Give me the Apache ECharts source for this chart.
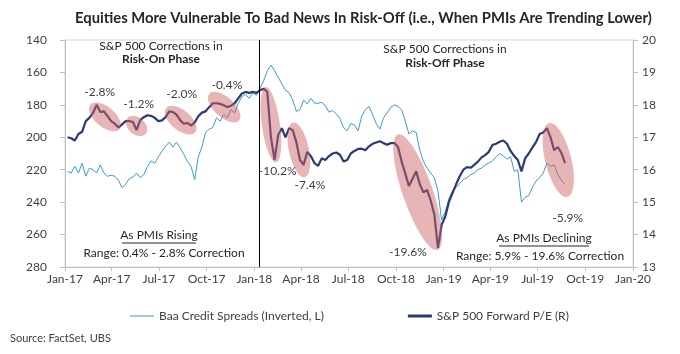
<!DOCTYPE html>
<html>
<head>
<meta charset="utf-8">
<script src="https://cdn.jsdelivr.net/npm/echarts@6/dist/echarts.min.js"></script>
<style>
html,body{margin:0;padding:0;background:#fff;}
#chart{width:680px;height:354px;}
</style>
</head>
<body>
<div id="chart"></div>
<script>
// weekly readings (Fridays) from 2017-01-06
var firstWeek = '2017-01-06';
var weekCount = 138;

// Baa credit spreads, bp (left axis, inverted)
var baaSpread = [
  221, 222, 218, 222, 216, 224, 219, 220, 222, 217,
  222, 224, 223.5, 224, 226.5, 231, 229, 225.5, 224.5, 222,
  225, 223, 218, 214.5, 216, 212, 208.5, 205.5, 203, 206,
  203, 206.5, 210.5, 215, 218, 226, 212, 206, 197, 195,
  194, 188, 190, 186, 188, 183, 185, 179, 175, 173.5,
  176, 172.5, 174, 170, 165, 159, 155.5, 159, 163, 167,
  171, 172.5, 177, 184, 183, 177, 179.5, 176, 179, 179,
  178.5, 180.5, 184.5, 183.5, 185.5, 188.5, 194, 196, 191.5, 192.5,
  196, 187, 183, 181, 186, 191.5, 195, 188, 185, 181.5,
  180, 181, 183, 190, 198, 196, 197, 208, 215, 219,
  222, 225, 233, 251, 246, 238, 233, 231, 228.5, 226,
  225, 223, 222, 220, 219, 217, 216, 214.5, 212, 210,
  211.5, 213.5, 212, 221, 220, 240, 237, 236, 231, 227,
  225, 222, 216, 218, 217, 223, 226.5, 229
];

// S&P 500 forward P/E (right axis)
var spxPE = [
  17.0, 16.97, 16.9, 17.1, 17.17, 17.5, 17.6, 17.75, 18.0, 17.78,
  17.8, 17.65, 17.5, 17.42, 17.3, 17.4, 17.5, 17.5, 17.47, 17.22,
  17.53, 17.62, 17.68, 17.66, 17.6, 17.5, 17.52, 17.62, 17.8, 17.78,
  17.7, 17.53, 17.42, 17.44, 17.36, 17.46, 17.65, 17.76, 17.8, 17.93,
  18.05, 18.05, 18.03, 17.99, 17.93, 17.97, 18.05, 18.2, 18.35, 18.4,
  18.37, 18.4, 18.37, 18.45, 18.5, 18.4, 17.0, 16.3, 17.07, 17.28,
  17.0, 17.28, 17.22, 16.85, 16.3, 16.15, 16.55, 16.42, 16.2, 16.12,
  16.35, 16.3, 16.42, 16.5, 16.53, 16.46, 16.25, 16.3, 16.5, 16.58,
  16.64, 16.65, 16.6, 16.72, 16.8, 16.84, 16.88, 16.82, 16.77, 16.82,
  16.82, 16.7, 16.25, 15.88, 15.5, 15.72, 15.95, 15.55, 15.3, 15.38,
  15.05, 14.62, 13.58, 14.3, 14.55, 15.0, 15.28, 15.55, 15.8, 16.0,
  16.08, 16.06, 16.15, 16.25, 16.38, 16.45, 16.55, 16.76, 16.8, 16.86,
  16.9, 16.8, 16.58, 16.42, 16.3, 15.95, 16.35, 16.5, 16.68, 16.85,
  17.1, 17.15, 17.28, 17.0, 16.6, 16.7, 16.52, 16.2
];

var leftRange = [140, 280, 20];
var rightRange = [13, 20, 1];
var xRange = ['2017-01-01', '2020-01-01'];
var regimeChange = '2018-01-10';

// correction episodes: label, ellipse centre and label anchor (date, P/E)
var corrLabels = ['-2.8%', '-1.2%', '-2.0%', '-0.4%', '-10.2%', '-7.4%', '-19.6%', '-5.9%'];
var corrCenters = [
  ['2017-03-19', 17.63], ['2017-05-19', 17.35], ['2017-08-12', 17.53], ['2017-11-04', 17.93],
  ['2018-02-02', 17.39], ['2018-03-28', 16.61], ['2018-11-12', 15.31], ['2019-08-10', 16.3]
];
var corrLabelAt = [
  ['2017-03-09', 18.40], ['2017-05-23', 18.03], ['2017-08-14', 18.33], ['2017-11-09', 18.61],
  ['2018-02-15', 15.96], ['2018-04-18', 15.53], ['2018-10-24', 13.46], ['2019-08-28', 14.51]
];
// ellipse size in px: [rx, ry, rotation deg]
var corrShape = [
  [19, 10, -40], [12, 8.5, -40], [19, 10, -40], [20, 10, -42],
  [9, 38, 8], [10, 28, 12], [15, 61, 19], [13, 38, 14]
];

var FONT = 'Lato';
var TXT = '#404040';

function pad(n) { return n < 10 ? '0' + n : '' + n; }
var weeks = [];
var d0 = new Date(firstWeek + 'T00:00:00');
for (var i = 0; i < weekCount; i++) {
  var d = new Date(d0.getTime() + i * 7 * 86400000);
  weeks.push(d.getFullYear() + '-' + pad(d.getMonth() + 1) + '-' + pad(d.getDate()));
}
var baaData = weeks.map(function (w, i) { return [w, baaSpread[i]]; });
var peData = weeks.map(function (w, i) { return [w, spxPE[i]]; });

var MONTHS = ['Jan','Feb','Mar','Apr','May','Jun','Jul','Aug','Sep','Oct','Nov','Dec'];

var myChart = echarts.init(document.getElementById('chart'));
var option = {
  animation: false,
  backgroundColor: '#fff',
  textStyle: { fontFamily: FONT },
  title: {
    text: 'Equities More Vulnerable To Bad News In Risk-Off (i.e., When PMIs Are Trending Lower)',
    left: 70, top: 6,
    textStyle: { fontFamily: FONT, fontSize: 14.8, fontWeight: 'bold', color: '#262626' }
  },
  grid: {
    left: 65, right: 47, top: 40, bottom: 87,
    show: true, borderColor: '#d9d9d9', borderWidth: 1, containLabel: false
  },
  legend: {
    left: 125, top: 305, itemGap: 84, itemWidth: 24, itemHeight: 3,
    textStyle: { fontFamily: FONT, fontSize: 12, color: TXT },
    data: [
      { name: 'Baa Credit Spreads (Inverted, L)', icon: 'path://M0,0H24V1H0Z' },
      { name: 'S&P 500 Forward P/E (R)', icon: 'path://M0,0H24V3H0Z' }
    ]
  },
  xAxis: {
    type: 'time',
    min: xRange[0], max: xRange[1],
    splitNumber: 12,
    minInterval: 95 * 86400000, maxInterval: 95 * 86400000,
    axisLine: { lineStyle: { color: '#bfbfbf' } },
    axisTick: { show: true, length: 4, lineStyle: { color: '#bfbfbf' } },
    splitLine: { show: false },
    axisLabel: {
      color: TXT, fontSize: 12, fontFamily: FONT, margin: 6, hideOverlap: false,
      showMinLabel: true, showMaxLabel: true,
      formatter: function (v) {
        var d = new Date(v);
        return MONTHS[d.getMonth()] + '-' + pad(d.getFullYear() % 100);
      }
    }
  },
  yAxis: [{
    type: 'value', inverse: true,
    min: leftRange[0], max: leftRange[1], interval: leftRange[2],
    axisLine: { show: true, lineStyle: { color: '#bfbfbf' } },
    axisTick: { show: true, length: 5, lineStyle: { color: '#bfbfbf' } },
    splitLine: { show: false },
    axisLabel: { color: TXT, fontSize: 12, fontFamily: FONT, margin: 18 }
  }, {
    type: 'value',
    min: rightRange[0], max: rightRange[1], interval: rightRange[2],
    axisLine: { show: true, lineStyle: { color: '#bfbfbf' } },
    axisTick: { show: true, length: 5, lineStyle: { color: '#bfbfbf' } },
    splitLine: { show: false },
    axisLabel: { color: TXT, fontSize: 12, fontFamily: FONT, margin: 9 }
  }],
  series: [{
    name: 'Baa Credit Spreads (Inverted, L)',
    type: 'line', yAxisIndex: 0,
    data: baaData,
    symbol: 'none', showSymbol: false,
    lineStyle: { color: '#3b9ad8', width: 1 },
    itemStyle: { color: '#3b9ad8' },
    z: 2,
    markLine: {
      silent: true, symbol: 'none',
      label: { show: false },
      lineStyle: { color: '#000', width: 1, type: 'solid' },
      data: [{ xAxis: regimeChange }]
    }
  }, {
    name: 'S&P 500 Forward P/E (R)',
    type: 'line', yAxisIndex: 1,
    data: peData,
    symbol: 'none', showSymbol: false,
    lineStyle: { color: '#2b3a73', width: 2.2 },
    itemStyle: { color: '#2b3a73' },
    z: 3
  }]
};
myChart.setOption(option);

// annotations
function toPx(p) {
  return myChart.convertToPixel({ seriesIndex: 1 }, [new Date(p[0] + 'T00:00:00').getTime(), p[1]]);
}
var graphics = [];
corrCenters.forEach(function (c, i) {
  var p = toPx(c);
  var s = corrShape[i];
  graphics.push({
    type: 'ellipse', z: 100,
    x: p[0], y: p[1], rotation: s[2] * Math.PI / 180,
    shape: { cx: 0, cy: 0, rx: s[0], ry: s[1] },
    style: { fill: 'rgba(205,100,100,0.48)' }
  });
  var q = toPx(corrLabelAt[i]);
  graphics.push({
    type: 'text', z: 101, x: q[0], y: q[1],
    style: { text: corrLabels[i], fill: TXT, font: '12px ' + FONT, align: 'center', verticalAlign: 'middle' }
  });
});

function label(txt, x, y, bold) {
  return {
    type: 'text', z: 101, x: x, y: y,
    style: { text: txt, fill: '#262626', font: (bold ? 'bold ' : '') + '12px ' + FONT, align: 'center', verticalAlign: 'middle' }
  };
}
graphics.push(label('S&P 500 Corrections in', 161, 46));
graphics.push(label('Risk-On Phase', 161, 59, true));
graphics.push(label('S&P 500 Corrections in', 445, 49));
graphics.push(label('Risk-Off Phase', 445, 63, true));
graphics.push(label('As PMIs Rising', 159, 235));
graphics.push({ type: 'line', z: 101, shape: { x1: 122, y1: 243, x2: 196, y2: 243 }, style: { stroke: '#262626', lineWidth: 1 } });
graphics.push(label('Range: 0.4% - 2.8% Correction', 164, 253));
graphics.push(label('As PMIs Declining', 544, 238));
graphics.push({ type: 'line', z: 101, shape: { x1: 499, y1: 246, x2: 589, y2: 246 }, style: { stroke: '#262626', lineWidth: 1 } });
graphics.push(label('Range: 5.9% - 19.6% Correction', 540, 256));
graphics.push({
  type: 'text', x: 10, y: 338,
  style: { text: 'Source: FactSet, UBS', fill: TXT, font: '11px ' + FONT, verticalAlign: 'middle' }
});

myChart.setOption({ graphic: graphics });
</script>
</body>
</html>
